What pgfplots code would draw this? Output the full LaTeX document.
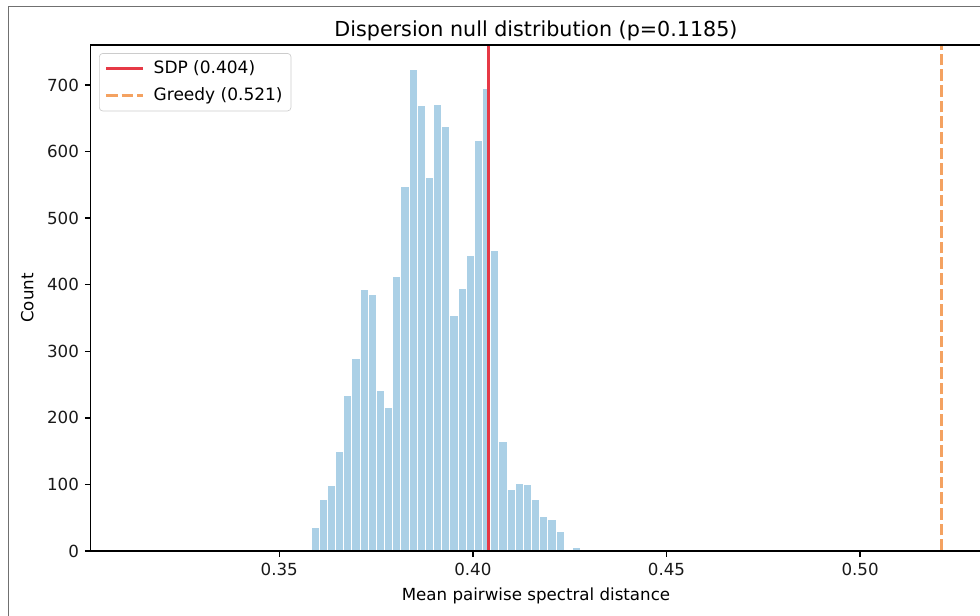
\documentclass[border=0pt]{standalone}
\usepackage{fontspec}
\setmainfont{DejaVu Sans}
\usepackage{pgfplots}
\pgfplotsset{compat=1.18}
\definecolor{barblue}{HTML}{ABD0E6}
\definecolor{sdpred}{HTML}{E63946}
\definecolor{greedyor}{HTML}{F4A261}
\definecolor{framegray}{HTML}{707070}
\begin{document}
\begin{tikzpicture}
\useasboundingbox (0pt,0pt) rectangle (588pt,369pt);
\draw[framegray, line width=0.6pt] (5pt,-1pt) -- (5pt,365pt) -- (590pt,365pt);
\begin{axis}[
  at={(54.4pt,38.4pt)}, anchor=south west,
  scale only axis, width=534.4pt, height=303.6pt,
  xmin=0.3013, xmax=0.5313, ymin=0, ymax=760,
  axis on top,
  xtick={0.35,0.40,0.45,0.50}, xticklabels={0.35,0.40,0.45,0.50},
  scaled x ticks=false,
  ytick={0,100,200,300,400,500,600,700},
  tick align=outside, xtick pos=bottom, ytick pos=left,
  major tick length=3.5pt,
  tick style={black, line width=0.8pt},
  axis line style={black, line width=0.8pt},
  /pgf/number format/assume math mode=true,
  ticklabel style={font=\fontsize{10}{12}\selectfont, text=black!90},
  title={Dispersion null distribution (p=0.1185)},
  title style={at={([yshift=-0.6pt]axis description cs:0.5,1)}, anchor=base, font=\fontsize{12.4}{14}\selectfont},
  xlabel={Mean pairwise spectral distance},
  ylabel={Count},
  every axis x label/.style={at={([yshift=-29.4pt]axis description cs:0.5,0)}, anchor=base, font=\fontsize{10}{12}\selectfont},
  every axis y label/.style={at={([xshift=-34.4pt]axis description cs:0,0.5)}, rotate=90, anchor=base, font=\fontsize{10}{12}\selectfont},
  legend style={at={(0.0094,0.984)}, anchor=north west, draw=black!20, rounded corners=2pt,
    fill=white, fill opacity=0.8, draw opacity=1, text opacity=1,
    font=\fontsize{10.2}{12}\selectfont, inner xsep=3pt, inner ysep=2.5pt, row sep=3pt,
    /tikz/every odd column/.append style={column sep=3.6pt}},
  legend cell align=left,
  legend image code/.code={\draw[#1] (0pt,0pt) -- (22pt,0pt);},
]
\addplot[ybar interval, fill=barblue, draw=white, line width=0.6pt, forget plot] coordinates {
(0.35610,2) (0.35821,35) (0.36032,78) (0.36243,98) (0.36454,149) (0.36665,234)
(0.36875,289) (0.37086,393) (0.37297,386) (0.37508,241) (0.37719,215) (0.37930,412)
(0.38141,547) (0.38352,723) (0.38563,669) (0.38774,561) (0.38984,670) (0.39195,638)
(0.39406,354) (0.39617,395) (0.39828,444) (0.40039,616) (0.40250,694) (0.40461,451)
(0.40672,165) (0.40883,92) (0.41093,102) (0.41304,100) (0.41515,78) (0.41726,52)
(0.41937,47) (0.42148,30) (0.42359,3) (0.42570,6) (0.42781,6)
};
\addplot[sdpred, line width=2pt] coordinates {(0.404,0) (0.404,760)};
\addlegendentry{SDP (0.404)}
\addplot[greedyor, line width=2pt, dash pattern=on 7pt off 2.4pt] coordinates {(0.521,0) (0.521,760)};
\addlegendentry{Greedy (0.521)}
\end{axis}
\end{tikzpicture}
\end{document}
